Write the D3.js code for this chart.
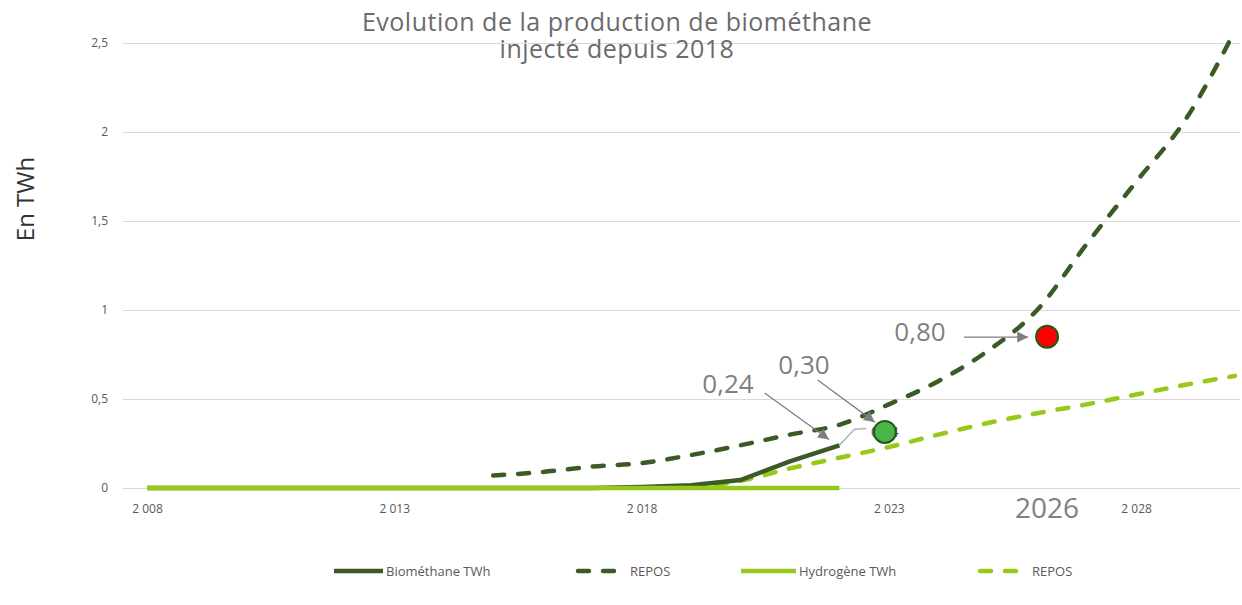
<!DOCTYPE html>
<html>
<head>
<meta charset="utf-8">
<script src="https://cdn.jsdelivr.net/npm/d3@7"></script>
<style>
  body { margin: 0; background: #fff; }
  svg text { font-family: "Open Sans", "DejaVu Sans", sans-serif; }
</style>
</head>
<body>
<div id="chart"></div>
<script>
// series, one value per year
const bioYears = d3.range(2008, 2023)
const bioValues = [0, 0, 0, 0, 0, 0, 0, 0, 0, 0, 0.005, 0.015, 0.045, 0.15, 0.24]

const h2Years = d3.range(2008, 2023)
const h2Values = [0, 0, 0, 0, 0, 0, 0, 0, 0, 0, 0, 0, 0, 0, 0]

const reposBioYears = d3.range(2015, 2031)
const reposBioValues = [0.07, 0.09, 0.12, 0.14, 0.185, 0.24, 0.30, 0.355, 0.47, 0.60, 0.77, 1.0, 1.37, 1.72, 2.07, 2.57]

const reposH2Years = d3.range(2019, 2031)
const reposH2Values = [0, 0.04, 0.11, 0.17, 0.23, 0.30, 0.365, 0.42, 0.47, 0.525, 0.58, 0.63]

const xTicks = [2008, 2013, 2018, 2023, 2028]
const yTicks = [0, 0.5, 1, 1.5, 2, 2.5]

const legendNames = ["Biométhane TWh", "REPOS", "Hydrogène TWh", "REPOS"]

// hand-placed callouts: label, where the arrow starts, where it points
const calloutLabels = ["0,24", "0,30", "0,80"]
const calloutFrom = [[2020.49, 0.534], [2021.56, 0.607], [2024.52, 0.848]]
const calloutTo = [[2021.79, 0.272], [2022.72, 0.37], [2025.82, 0.848]]
const markerPoints = [[2022.92, 0.315], [2026.2, 0.85]]
const markerFills = ["#4cb548", "#ff0000"]

const darkGreen = "#3a5a26"
const lightGreen = "#97c91a"
const grey = "#7f7f7f"

const width = 1242
const height = 605

const fr = d3.formatLocale({ decimal: ",", thousands: "\u00a0", grouping: [3], currency: ["", " €"] })

const x = d3.scaleLinear().domain([2008, 2030]).range([147, 1235])
const y = d3.scaleLinear().domain([0, 2.5]).range([488, 43])

const svg = d3.select("#chart").append("svg")
    .attr("width", width)
    .attr("height", height)

svg.append("defs").append("marker")
    .attr("id", "arrow")
    .attr("viewBox", "0 0 10 10")
    .attr("refX", 10).attr("refY", 5)
    .attr("markerWidth", 11).attr("markerHeight", 11)
    .attr("markerUnits", "userSpaceOnUse")
    .attr("orient", "auto")
    .append("path")
    .attr("d", "M0,0 L10,5 L0,10 z")
    .attr("fill", grey)

// gridlines + y labels
const yAxis = d3.axisLeft(y)
    .tickValues(yTicks)
    .tickSize(-(1240 - 123))
    .tickPadding(15)
    .tickFormat(d => fr.format(",")(d).replace(".", ","))

svg.append("g")
    .attr("transform", "translate(123,0)")
    .call(yAxis)
    .call(g => g.select(".domain").remove())
    .call(g => g.selectAll(".tick line").attr("stroke", "#d9d9d9").attr("stroke-width", 1.2))
    .call(g => g.selectAll(".tick text").attr("fill", "#595959").style("font-size", "12px"))

// x labels
const xAxis = d3.axisBottom(x)
    .tickValues(xTicks)
    .tickSize(0)
    .tickPadding(16)
    .tickFormat(d => fr.format(",")(d))

svg.append("g")
    .attr("transform", "translate(0,488)")
    .call(xAxis)
    .call(g => g.select(".domain").remove())
    .call(g => g.selectAll(".tick text").attr("fill", "#595959").style("font-size", "12px"))

const smooth = d3.line().x(d => x(d[0])).y(d => y(d[1])).curve(d3.curveMonotoneX)
const straight = d3.line().x(d => x(d[0])).y(d => y(d[1]))

const series = [
    { years: reposBioYears, values: reposBioValues, color: darkGreen, dash: "11,14", line: smooth },
    { years: reposH2Years, values: reposH2Values, color: lightGreen, dash: "11,14", line: smooth },
    { years: bioYears, values: bioValues, color: darkGreen, dash: null, line: straight },
    { years: h2Years, values: h2Values, color: lightGreen, dash: null, line: straight }
]

series.forEach(s => {
    svg.append("path")
        .datum(s.years.map((yr, i) => [yr, s.values[i]]))
        .attr("fill", "none")
        .attr("stroke", s.color)
        .attr("stroke-width", 4.5)
        .attr("stroke-linecap", s.dash ? "round" : "butt")
        .attr("stroke-dasharray", s.dash)
        .attr("d", s.line)
})

// leader line from last biomethane point to its small label
const lastBio = [bioYears[bioYears.length - 1], bioValues[bioValues.length - 1]]
svg.append("path")
    .attr("d", d3.line()([
        [x(lastBio[0]), y(lastBio[1])],
        [x(lastBio[0]) + 15, y(lastBio[1]) - 16],
        [x(lastBio[0]) + 27, y(lastBio[1]) - 17]
    ]))
    .attr("fill", "none")
    .attr("stroke", "#a6a6a6")
    .attr("stroke-width", 1.2)

svg.append("text")
    .attr("x", x(markerPoints[0][0]))
    .attr("y", y(markerPoints[0][1]) + 5)
    .attr("text-anchor", "middle")
    .attr("fill", "#595959")
    .style("font-size", "14px")
    .text(fr.format(",.2f")(lastBio[1]).replace(".", ","))

// callout arrows + labels
calloutLabels.forEach((lab, i) => {
    svg.append("line")
        .attr("x1", x(calloutFrom[i][0])).attr("y1", y(calloutFrom[i][1]))
        .attr("x2", x(calloutTo[i][0])).attr("y2", y(calloutTo[i][1]))
        .attr("stroke", grey)
        .attr("stroke-width", 1.3)
        .attr("marker-end", "url(#arrow)")
})

svg.append("text").attr("x", 728).attr("y", 393).attr("text-anchor", "middle")
    .attr("fill", grey).style("font-size", "26px").text(calloutLabels[0])
svg.append("text").attr("x", 804).attr("y", 374).attr("text-anchor", "middle")
    .attr("fill", grey).style("font-size", "26px").text(calloutLabels[1])
svg.append("text").attr("x", 920).attr("y", 341).attr("text-anchor", "middle")
    .attr("fill", grey).style("font-size", "26px").text(calloutLabels[2])

markerPoints.forEach((p, i) => {
    svg.append("circle")
        .attr("cx", x(p[0])).attr("cy", y(p[1]))
        .attr("r", 11)
        .attr("fill", markerFills[i])
        .attr("stroke", "#1f5a1c")
        .attr("stroke-width", 2)
})

svg.append("text").attr("x", x(2026.2)).attr("y", 518).attr("text-anchor", "middle")
    .attr("fill", grey).style("font-size", "28px").text("2026")

// title
const title = svg.append("text").attr("text-anchor", "middle").attr("fill", "#6b6b6b")
    .style("font-size", "25px").style("letter-spacing", "0.5px")
title.append("tspan").attr("x", 617).attr("y", 31).text("Evolution de la production de biométhane")
title.append("tspan").attr("x", 617).attr("y", 58).text("injecté depuis 2018")

svg.append("text")
    .attr("transform", "translate(34,199) rotate(-90)")
    .attr("text-anchor", "middle")
    .attr("fill", "#333")
    .style("font-size", "24px")
    .text("En TWh")

// legend
const legendX = [334, 576, 741, 978]
const legendColors = [darkGreen, darkGreen, lightGreen, lightGreen]
const legendDash = [null, "11,14", null, "11,14"]
const legendLen = [49, 44, 55, 44]

const leg = svg.append("g").selectAll("g")
    .data(legendNames)
    .enter().append("g")
    .attr("transform", (d, i) => `translate(${legendX[i]},571)`)

leg.append("line")
    .attr("x1", (d, i) => legendDash[i] ? 2 : 0)
    .attr("x2", (d, i) => legendLen[i] - (legendDash[i] ? 2 : 0))
    .attr("stroke", (d, i) => legendColors[i])
    .attr("stroke-width", 4.5)
    .attr("stroke-linecap", (d, i) => legendDash[i] ? "round" : "butt")
    .attr("stroke-dasharray", (d, i) => legendDash[i])

leg.append("text")
    .attr("x", (d, i) => legendLen[i] + (legendDash[i] ? 10 : 3))
    .attr("y", 5)
    .attr("fill", "#595959")
    .style("font-size", "13px")
    .text(d => d)
</script>
</body>
</html>
